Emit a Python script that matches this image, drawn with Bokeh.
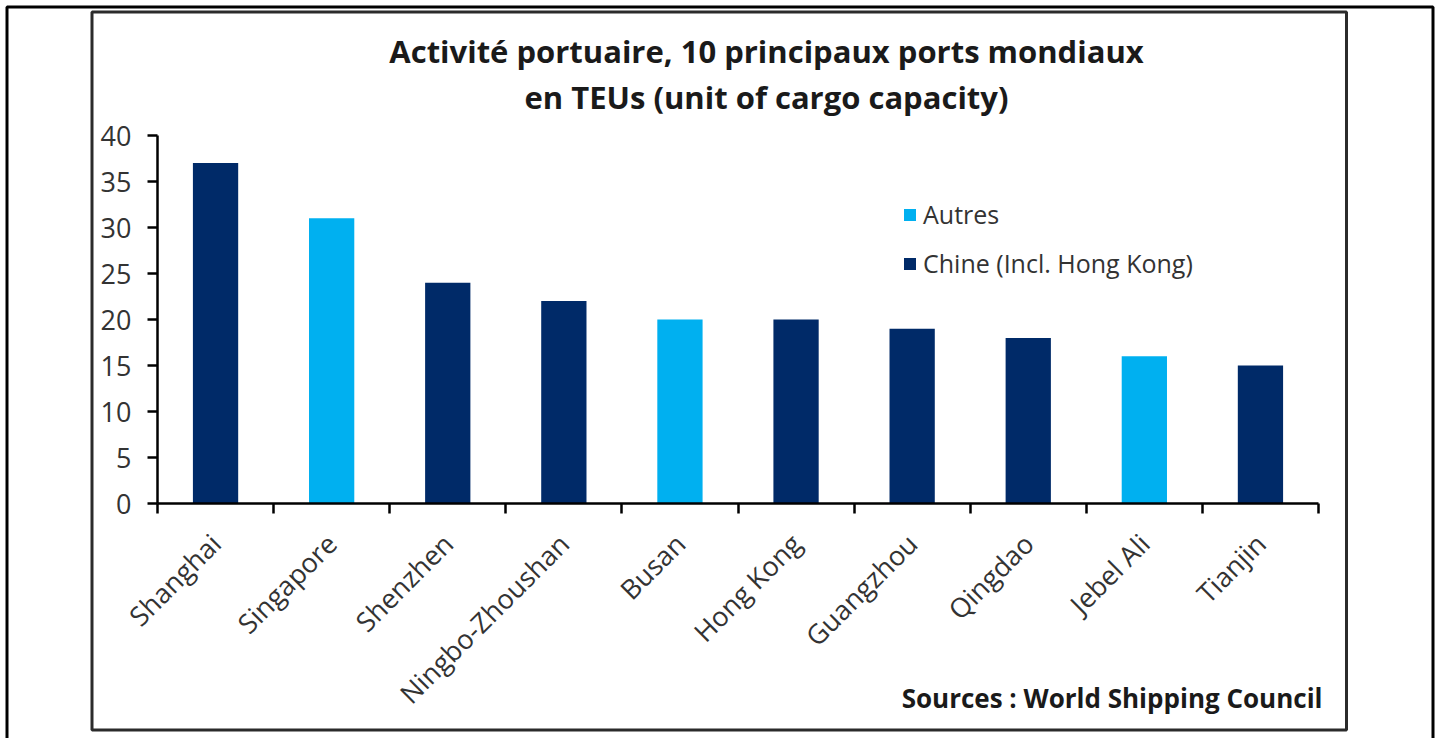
from math import pi
from bokeh.plotting import figure
from bokeh.models import (ColumnDataSource, Range1d, LinearAxis,
                          FixedTicker, Legend, LegendItem, Label, BoxAnnotation)
from bokeh.embed import file_html
from bokeh.resources import INLINE

# ---- data ----
ports = ["Shanghai", "Singapore", "Shenzhen", "Ningbo-Zhoushan", "Busan",
         "Hong Kong", "Guangzhou", "Qingdao", "Jebel Ali", "Tianjin"]
teus = [37, 31, 24, 22, 20, 20, 19, 18, 16, 15]
CHN = "Chine (Incl. Hong Kong)"
OTH = "Autres"
groups = [CHN, OTH, CHN, CHN, OTH, CHN, CHN, CHN, OTH, CHN]
legend_order = [OTH, CHN]
group_colors = {OTH: "#00B0F0", CHN: "#002A68"}
y_ticks = [0, 5, 10, 15, 20, 25, 30, 35, 40]
title_line1 = "Activité portuaire, 10 principaux ports mondiaux"
title_line2 = "en TEUs (unit of cargo capacity)"
source_text = "Sources : World Shipping Council"

# ---- layout constants (pixels) ----
W, H = 1438, 738
X0_PX, SLOT_PX = 157.0, 116.1    # pixel of the y axis, width of one category slot
Y0_PX, UNIT_PX = 503.0, 9.2      # pixel of value 0, pixels per value unit
FONT = "Open Sans"
TXT = "#333333"


def px2x(px):
    return (px - X0_PX) / SLOT_PX


def px2y(py):
    return (Y0_PX - py) / UNIT_PX


n = len(ports)
centers = [i + 0.5 for i in range(n)]          # category slot centres
edges = list(range(n + 1))                      # category slot boundaries

p = figure(x_range=Range1d(px2x(0), px2x(W)), y_range=Range1d(px2y(H), px2y(0)),
           width=W, height=H, output_backend="svg", toolbar_location=None,
           x_axis_location=None, y_axis_location=None, min_border=0)
p.outline_line_color = None
p.grid.grid_line_color = None
p.background_fill_color = "white"
p.border_fill_color = "white"

# y axis, pinned at x = 0
ya = LinearAxis(fixed_location=0, bounds=(0, 40), ticker=FixedTicker(ticks=y_ticks),
                major_tick_out=10, major_tick_in=0, minor_tick_line_color=None,
                axis_line_width=2.5, major_tick_line_width=2.5,
                axis_line_color="black", major_tick_line_color="black",
                major_label_text_font=FONT, major_label_text_font_size="27px",
                major_label_text_color=TXT, major_label_standoff=16)
p.add_layout(ya, "left")

# x axis, pinned at y = 0: tick marks at slot boundaries, labels at slot centres
xa = LinearAxis(fixed_location=0, bounds=(0, n),
                ticker=FixedTicker(ticks=centers, minor_ticks=edges),
                major_label_overrides={c: name for c, name in zip(centers, ports)},
                major_tick_line_color=None, major_tick_out=0, major_tick_in=0,
                minor_tick_out=10, minor_tick_in=0, minor_tick_line_width=2.5,
                minor_tick_line_color="black",
                axis_line_width=2.5, axis_line_color="black",
                major_label_orientation=pi / 4,
                major_label_text_font=FONT, major_label_text_font_size="27px",
                major_label_text_color=TXT, major_label_standoff=25)
p.add_layout(xa, "below")

# bars
rends = {}
for g in legend_order:
    sel_x = [c for c, gg in zip(centers, groups) if gg == g]
    sel_v = [v for v, gg in zip(teus, groups) if gg == g]
    src = ColumnDataSource(dict(x=sel_x, teu=sel_v))
    rends[g] = p.vbar(x="x", top="teu", width=0.39, source=src,
                      fill_color=group_colors[g], line_color=None)

legend = Legend(items=[LegendItem(label=g, renderers=[rends[g]]) for g in legend_order],
                location=(902, 458), orientation="vertical",
                glyph_width=15, glyph_height=15, label_standoff=6,
                label_text_font=FONT, label_text_font_size="25px", label_text_color=TXT,
                padding=0, margin=0, spacing=15,
                border_line_color=None, background_fill_alpha=0)
p.add_layout(legend)

# titles & source
for txt, ypx in [(title_line1, 50), (title_line2, 96)]:
    p.add_layout(Label(x=px2x(766), y=px2y(ypx), text=txt,
                       text_align="center", text_baseline="middle", text_font=FONT,
                       text_font_style="bold", text_font_size="31px", text_color="#1a1a1a"))
p.add_layout(Label(x=px2x(1322), y=px2y(697), text=source_text,
                   text_align="right", text_baseline="middle", text_font=FONT,
                   text_font_style="bold", text_font_size="26px", text_color="#1a1a1a"))

# frames
p.add_layout(BoxAnnotation(left=px2x(6.5), right=px2x(1432.5), top=px2y(6.5), bottom=px2y(800),
                           fill_color=None, line_color="black", line_alpha=1, line_width=3))
p.add_layout(BoxAnnotation(left=px2x(91.5), right=px2x(1346), top=px2y(11.5), bottom=px2y(729.5),
                           fill_color=None, line_color="#2b2b2b", line_alpha=1, line_width=3))

open("out.html", "w").write(file_html(p, INLINE))
